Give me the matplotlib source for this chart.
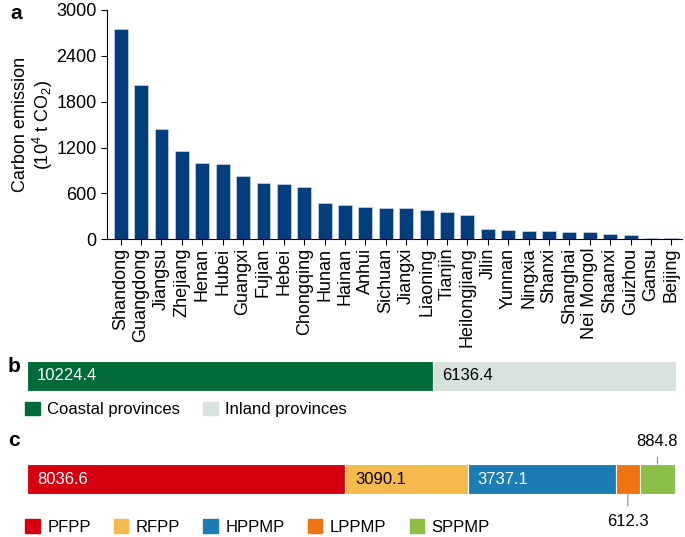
import matplotlib
matplotlib.use("Agg")
import matplotlib.pyplot as plt
from matplotlib.patches import Patch

plt.rcParams['font.family'] = ['Liberation Sans', 'DejaVu Sans']
plt.rcParams['mathtext.default'] = 'regular'

# panel a
provinces = ['Shandong', 'Guangdong', 'Jiangsu', 'Zhejiang', 'Henan', 'Hubei',
             'Guangxi', 'Fujian', 'Hebei', 'Chongqing', 'Hunan', 'Hainan',
             'Anhui', 'Sichuan', 'Jiangxi', 'Liaoning', 'Tianjin',
             'Heilongjiang', 'Jilin', 'Yunnan', 'Ningxia', 'Shanxi',
             'Shanghai', 'Nei Mongol', 'Shaanxi', 'Guizhou', 'Gansu', 'Beijing']
emission = [2747, 2019, 1443, 1159, 994, 981, 828, 733, 720, 688, 479, 453,
            423, 405, 405, 379, 353, 314, 135, 126, 105, 109, 96, 92, 65, 57,
            22, 13]
yticks = [0, 600, 1200, 1800, 2400, 3000]

# panel b
region_names = ['Coastal provinces', 'Inland provinces']
region_values = [10224.4, 6136.4]
region_colors = ['#006b38', '#d8e2dd']
region_text = ['white', 'black']

# panel c
type_names = ['PFPP', 'RFPP', 'HPPMP', 'LPPMP', 'SPPMP']
type_values = [8036.6, 3090.1, 3737.1, 612.3, 884.8]
type_colors = ['#d7000f', '#f6b94b', '#1c7db5', '#ef7310', '#8bbf45']
type_text = ['white', 'black', 'white', None, None]

W, H = 685, 537
fig = plt.figure(figsize=(W / 100, H / 100), dpi=100)


def box(x0, y0, x1, y1):
    # pixel box (top-left origin) -> figure fraction
    return [x0 / W, 1 - y1 / H, (x1 - x0) / W, (y1 - y0) / H]


legend_kw = dict(loc='upper left', frameon=False, fontsize=12, handlelength=0.87,
                 handleheight=0.87, handletextpad=0.46, columnspacing=1.38,
                 borderaxespad=0)

# ---- a ----
ax = fig.add_axes(box(107, 10, 682, 239.3))
xs = list(range(len(provinces)))
ax.bar(xs, emission, width=0.68, color='#023e7d', edgecolor='#dbe3ee', linewidth=0.4)
ax.set_xlim(-0.67, len(provinces) - 0.48)
ax.set_ylim(0, 3000)
ax.set_yticks(yticks)
ax.set_xticks(xs)
ax.set_xticklabels(provinces, rotation=90, fontsize=13)
ax.tick_params(axis='y', labelsize=13, length=4, width=0.8)
ax.tick_params(axis='x', length=4, width=0.8, pad=2)
ax.spines['top'].set_visible(False)
ax.spines['right'].set_visible(False)
ax.set_ylabel('Carbon emission\n(10$^4$ t CO$_2$)', fontsize=13, linespacing=1.1, labelpad=1)
fig.text(10 / W, 1 - 4 / H, 'a', fontsize=15, fontweight='bold', va='top')

# ---- b ----
axb = fig.add_axes(box(27, 360.7, 676, 390.7))
left = 0
for v, c, tc in zip(region_values, region_colors, region_text):
    axb.barh(0, v, left=left, height=1, color=c, edgecolor='white', linewidth=0.8)
    axb.text(left + 250, 0, f'{v}', color=tc, fontsize=12, va='center', ha='left')
    left += v
axb.set_xlim(0, sum(region_values))
axb.set_ylim(-0.5, 0.5)
axb.axis('off')
axb.legend([Patch(color=c) for c in region_colors], region_names, ncol=2,
           bbox_to_anchor=(-0.013, -0.15), **legend_kw)
fig.text(8 / W, 1 - 357 / H, 'b', fontsize=15, fontweight='bold', va='top')

# ---- c ----
axc = fig.add_axes(box(27, 464, 675, 494))
left = 0
for v, c, tc in zip(type_values, type_colors, type_text):
    axc.barh(0, v, left=left, height=1, color=c, edgecolor='white', linewidth=0.8)
    if tc:
        axc.text(left + 250, 0, f'{v}', color=tc, fontsize=12, va='center', ha='left')
    left += v
lp_mid = sum(type_values[:3]) + type_values[3] / 2
sp_mid = sum(type_values[:4]) + type_values[4] / 2
axc.annotate(f'{type_values[4]}', xy=(sp_mid, 0.5), xytext=(0, 16), textcoords='offset points',
             ha='center', va='center', fontsize=12,
             arrowprops=dict(arrowstyle='-', color='#888888', lw=0.8, shrinkA=4, shrinkB=0))
axc.annotate(f'{type_values[3]}', xy=(lp_mid, -0.5), xytext=(0, -20), textcoords='offset points',
             ha='center', va='center', fontsize=12,
             arrowprops=dict(arrowstyle='-', color='#888888', lw=0.8, shrinkA=4, shrinkB=0))
axc.set_xlim(0, sum(type_values))
axc.set_ylim(-0.5, 0.5)
axc.axis('off')
axc.legend([Patch(color=c) for c in type_colors], type_names, ncol=5,
           bbox_to_anchor=(-0.013, -0.62), **legend_kw)
fig.text(8 / W, 1 - 431 / H, 'c', fontsize=15, fontweight='bold', va='top')

fig.savefig('out.png', dpi=100)
